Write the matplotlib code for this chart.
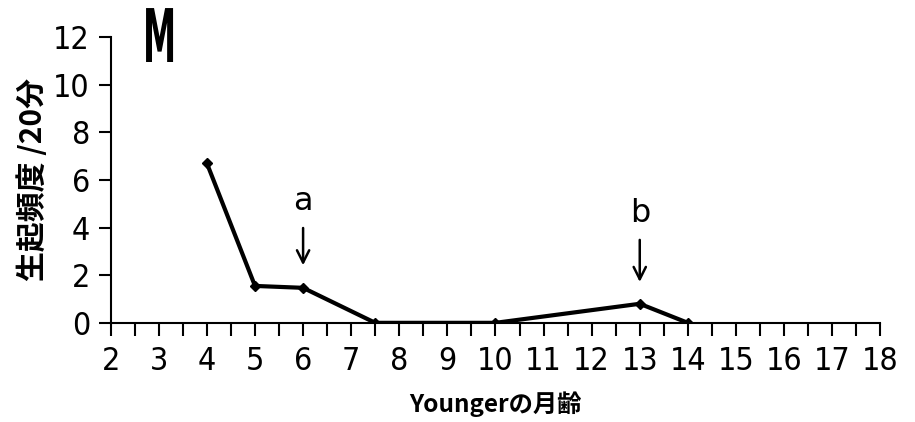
import matplotlib.pyplot as plt
from matplotlib.ticker import MultipleLocator
from matplotlib.textpath import TextPath
from matplotlib.patches import PathPatch
from matplotlib.font_manager import FontProperties
from matplotlib.transforms import Affine2D

plt.rcParams['font.family'] = ['DejaVu Sans', 'Noto Sans CJK JP']
plt.rcParams['font.stretch'] = 'condensed'

# data
months = [4, 5, 6, 7.5, 10, 13, 14]
freq = [6.7, 1.55, 1.47, 0, 0, 0.8, 0]

arrow_x = [6, 13]
arrow_labels = ['a', 'b']
arrow_top = [4.1, 3.6]
arrow_tip = [2.3, 1.6]

fig = plt.figure(figsize=(9.15, 4.22), dpi=100)
ax = fig.add_axes([0.121, 0.235, 0.841, 0.677])

ax.plot(months, freq, color='black', lw=3, marker='D', ms=5)

for x, lab, y0, y1 in zip(arrow_x, arrow_labels, arrow_top, arrow_tip):
    ax.annotate('', xy=(x, y1), xytext=(x, y0),
                arrowprops=dict(arrowstyle='->', lw=1.8, color='black',
                                mutation_scale=22))
    ax.text(x, y0 + 0.35, lab, ha='center', va='bottom', fontsize=23,
            fontstretch='normal')

ax.set_xlim(2, 18)
ax.set_ylim(0, 12)
ax.xaxis.set_major_locator(MultipleLocator(1))
ax.xaxis.set_minor_locator(MultipleLocator(0.5))
ax.yaxis.set_major_locator(MultipleLocator(2))
ax.tick_params(axis='both', which='both', direction='out', width=1.5,
               length=9, labelsize=23, pad=6)
ax.tick_params(axis='x', pad=8)

for s in ['top', 'right']:
    ax.spines[s].set_visible(False)
for s in ['left', 'bottom']:
    ax.spines[s].set_linewidth(1.5)

ax.set_ylabel('生起頻度 /20分', fontsize=21.5, family=['Noto Sans CJK JP'],
              fontweight='bold', labelpad=4)
ax.set_xlabel('Youngerの月齢', fontsize=17.5, family=['Noto Sans CJK JP'],
              fontweight='bold', labelpad=10)

# tall narrow bold "M" panel label
tp = TextPath((0, 0), 'M', size=74, prop=FontProperties(family='DejaVu Sans', weight='bold'))
tp = Affine2D().scale(0.5, 1.0).translate(143, 422 - 62).transform_path(tp)
fig.add_artist(PathPatch(tp, color='black', lw=0, transform=None))

fig.savefig('out.png', dpi=100)
